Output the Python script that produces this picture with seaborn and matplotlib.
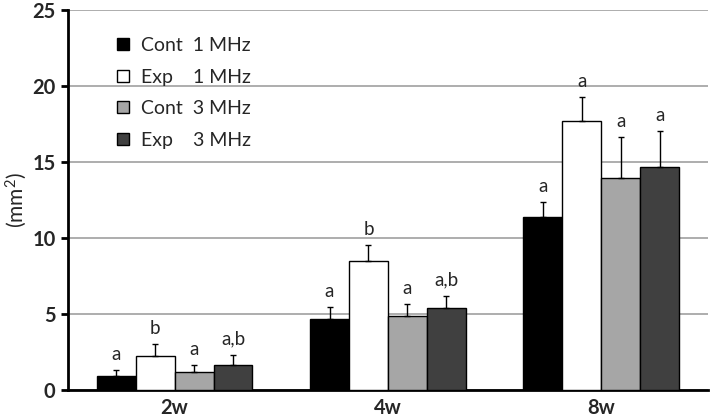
import pandas as pd
import matplotlib.pyplot as plt
import seaborn as sns

weeks = ["2w", "4w", "8w"]
groups = ["Cont  1 MHz", "Exp    1 MHz", "Cont  3 MHz", "Exp    3 MHz"]
colors = ["#000000", "#ffffff", "#a6a6a6", "#404040"]

# means and upper error (SD) per group, in week order
means = {
    "Cont  1 MHz": [0.92, 4.65, 11.4],
    "Exp    1 MHz": [2.26, 8.5, 17.7],
    "Cont  3 MHz": [1.16, 4.89, 13.95],
    "Exp    3 MHz": [1.62, 5.37, 14.67],
}
errors = {
    "Cont  1 MHz": [0.38, 0.79, 0.95],
    "Exp    1 MHz": [0.74, 1.04, 1.6],
    "Cont  3 MHz": [0.5, 0.77, 2.72],
    "Exp    3 MHz": [0.7, 0.83, 2.37],
}
letters = {
    "Cont  1 MHz": ["a", "a", "a"],
    "Exp    1 MHz": ["b", "b", "a"],
    "Cont  3 MHz": ["a", "a", "a"],
    "Exp    3 MHz": ["a,b", "a,b", "a"],
}

rows = []
for g in groups:
    for i, w in enumerate(weeks):
        rows.append({"week": w, "group": g, "value": means[g][i]})
df = pd.DataFrame(rows)

sns.set_style("white")
plt.rcParams["font.family"] = ["Lato", "DejaVu Sans"]
plt.rcParams["mathtext.default"] = "regular"

fig = plt.figure(figsize=(7.11, 4.17), dpi=100)
ax = fig.add_axes([0.0956, 0.0647, 0.9, 0.9113])

sns.barplot(data=df, x="week", y="value", hue="group", hue_order=groups,
            palette=colors, width=0.73, edgecolor="black", linewidth=1,
            errorbar=None, ax=ax, zorder=3)

for cont, g in zip(ax.containers, groups):
    for i, bar in enumerate(cont):
        cx = bar.get_x() + bar.get_width() / 2
        top = bar.get_height()
        err = errors[g][i]
        ax.errorbar(cx, top, yerr=[[0], [err]], fmt="none", ecolor="black",
                    elinewidth=1, capsize=2.5, capthick=1, zorder=4)
        ax.annotate(letters[g][i], (cx, top + err), xytext=(0, 5),
                    textcoords="offset points", ha="center", va="bottom",
                    fontsize=13.5)

ax.set_ylim(0, 25)
ax.set_xlim(-0.5, 2.5)
ax.set_yticks([0, 5, 10, 15, 20, 25])
ax.yaxis.grid(True, color="#a0a0a0", linewidth=1.2, zorder=0)
ax.set_axisbelow(True)
ax.set_xticks([0, 1, 2])
ax.set_xticklabels(weeks)
ax.set_xticks([-0.5, 0.5, 1.5, 2.5], minor=True)
ax.tick_params(axis="x", which="major", length=0, pad=6)
ax.tick_params(axis="x", which="minor", length=5, width=2, direction="out",
               color="black")
ax.tick_params(axis="y", length=5, width=2, direction="out", color="black",
               left=True, pad=4)
for lbl in ax.get_xticklabels() + ax.get_yticklabels():
    lbl.set_fontweight("bold")
    lbl.set_fontsize(14.5)

for side in ["top", "right"]:
    ax.spines[side].set_visible(False)
for side in ["left", "bottom"]:
    ax.spines[side].set_color("black")
    ax.spines[side].set_linewidth(2)

ax.set_xlabel("")
ax.set_ylabel("(mm$^2$)", fontsize=15, labelpad=2)

leg = ax.legend(loc="upper left", bbox_to_anchor=(0.05, 0.975), frameon=False,
                fontsize=14, handlelength=0.6, handleheight=0.6,
                labelspacing=0.75, handletextpad=0.6)

plt.savefig("out.png", dpi=100)
plt.close()
